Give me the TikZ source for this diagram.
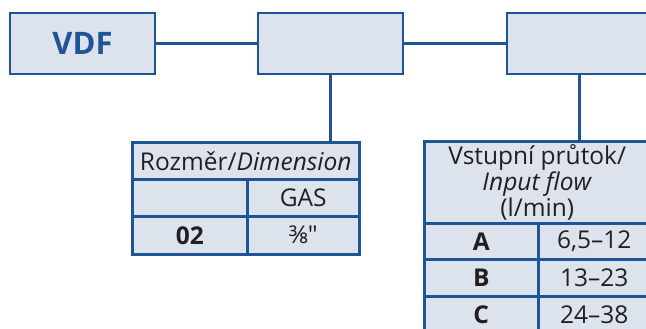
\documentclass[tikz,border=0pt]{standalone}
\usepackage{fontspec}
\setmainfont{Open Sans}
\definecolor{vdfblue}{HTML}{1F5596}
\definecolor{vdffill}{HTML}{DCE3ED}
\definecolor{vdftext}{HTML}{231F20}
\tikzset{
  codebox/.style={draw=vdfblue, fill=vdffill, line width=2.5pt, minimum width=145pt, minimum height=61pt, inner sep=0pt},
  cell/.style={draw=vdfblue, fill=vdffill, line width=2.5pt, inner sep=0pt, anchor=north west, text=vdftext, font=\fontsize{24.5}{26}\selectfont},
  boldcell/.style={cell, font=\bfseries\fontsize{24.5}{26}\selectfont},
  link/.style={draw=vdfblue, line width=2.2pt},
}
\begin{document}
\begin{tikzpicture}[x=1pt,y=-1pt]
		\useasboundingbox (0,0) rectangle (646,329);
		\clip (0,0) rectangle (646,329);
		%Code boxes
		\node[codebox, text=vdfblue, font=\bfseries\fontsize{31}{32}\selectfont] (vdf) at (82.5,43.5) {VDF};
		\node[codebox] (dim) at (330.5,43.5) {};
		\node[codebox] (flow) at (579.5,43.5) {};
		%Dimension table
		\node[cell, minimum width=227pt, minimum height=37pt] (dimhead) at (131,141) {Rozměr/\textit{Dimension}};
		\node[cell, minimum width=115pt, minimum height=37pt] (dimA) at (131,178) {};
		\node[cell, minimum width=112pt, minimum height=37pt] (dimB) at (246,178) {GAS};
		\node[boldcell, minimum width=115pt, minimum height=38pt] (dimC) at (131,215) {02};
		\node[cell, minimum width=112pt, minimum height=38pt] (dimD) at (246,215) {⅜″};
		%Flow table
		\node[cell, minimum width=226pt, minimum height=82pt, align=center] (flowhead) at (423,140) {Vstupní průtok/\\\textit{Input flow}\\(l/min)};
		\node[boldcell, minimum width=114pt, minimum height=36pt] (flowA) at (423,222) {A};
		\node[cell, minimum width=112pt, minimum height=36pt] (flowAv) at (537,222) {6,5–12};
		\node[boldcell, minimum width=114pt, minimum height=37pt] (flowB) at (423,258) {B};
		\node[cell, minimum width=112pt, minimum height=37pt] (flowBv) at (537,258) {13–23};
		\node[boldcell, minimum width=114pt, minimum height=37pt] (flowC) at (423,295) {C};
		\node[cell, minimum width=112pt, minimum height=37pt] (flowCv) at (537,295) {24–38};
		%Links
		\draw[link] (vdf.east) -- (dim.west);
		\draw[link] (dim.east) -- (flow.west);
		\draw[link] (dim.south) -- (dim.south |- dimhead.north);
		\draw[link] (flow.south) -- (flow.south |- flowhead.north);
\end{tikzpicture}
\end{document}
